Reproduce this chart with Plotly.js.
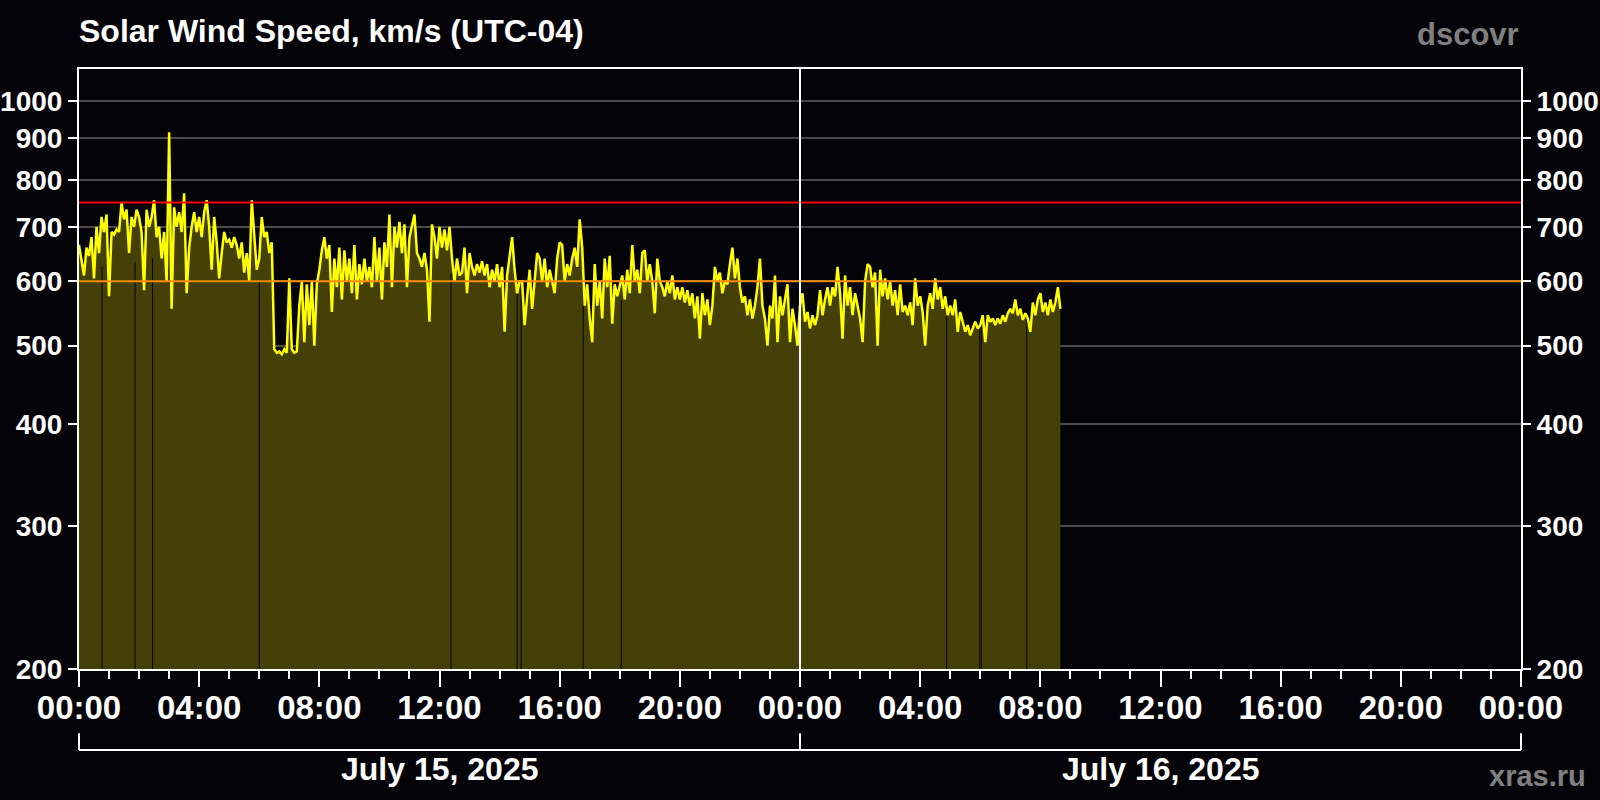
<!DOCTYPE html>
<html><head><meta charset="utf-8">
<script src="https://cdn.plot.ly/plotly-3.0.1.min.js"></script>
<style>html,body{margin:0;padding:0;background:#040307;}#chart{width:1600px;height:800px;}</style>
</head><body><div id="chart"></div>
<script>
// ---- data (5-minute samples) ----
const startYear = 2025, startMonth = 6, startDay = 15; // July 15, 2025 (month index 6)
const stepMinutes = 5;

const speedJul15 = [
  665,635,610,660,645,680,605,700,650,720,690,725,
  575,690,685,695,690,750,715,735,650,720,700,735,
  720,690,585,735,700,720,755,680,700,640,690,600,
  915,555,740,700,730,690,770,580,660,700,730,690,
  720,680,730,755,700,620,720,670,605,650,690,670,
  675,660,680,665,640,670,615,650,600,755,680,620,
  640,720,680,690,650,670,495,490,492,488,495,490,
  605,495,490,492,560,600,505,595,530,600,500,595,
  620,655,680,640,665,550,640,590,660,570,655,600,
  640,580,665,570,630,595,640,600,625,590,680,600,
  660,570,670,625,725,590,700,660,710,650,705,590,
  680,705,725,650,640,625,650,620,535,705,680,640,
  700,660,695,655,700,640,600,640,610,615,660,580,
  650,625,610,630,615,635,610,630,590,620,600,630,
  590,625,520,610,640,680,620,580,600,600,530,580,
  620,555,600,650,640,600,640,590,620,600,580,640,
  670,665,600,630,610,640,660,625,715,660,560,595,
  540,505,630,560,600,540,640,590,645,532,595,575,
  590,610,570,620,580,665,600,620,580,650,655,600,
  630,600,548,640,600,590,575,600,580,610,570,590,
  570,590,565,585,560,580,540,575,510,580,545,570,
  530,560,625,600,615,580,600,595,630,660,605,640,
  590,565,575,545,570,540,560,590,640,560,540,500,
  560,540,610,505,575,545,570,595,505,555,530,500
];
const speedJul16 = [
  560,580,535,550,525,545,530,545,585,545,570,590,
  560,590,575,625,580,510,610,560,590,545,580,560,
  540,505,600,630,625,590,615,500,620,575,605,570,
  600,560,585,545,595,550,560,545,565,530,605,560,
  575,550,500,560,580,555,605,570,590,555,575,545,
  560,545,570,520,550,535,520,530,515,525,535,525,
  530,545,505,545,535,540,530,540,532,545,535,548,
  555,548,570,545,555,538,548,540,520,565,545,570,
  580,550,565,545,570,550,565,590,555
];

// data gaps (thin dark lines in the fill)
const gapTimes = ['2025-07-15 00:46','2025-07-15 01:52','2025-07-15 02:27','2025-07-15 06:00',
  '2025-07-15 12:23','2025-07-15 14:35','2025-07-15 14:43','2025-07-15 16:47','2025-07-15 18:03',
  '2025-07-16 04:53','2025-07-16 05:59','2025-07-16 06:02','2025-07-16 07:33'];
const gapTops = [625,634,640,602,614,580,591,602,569,553,540,538,545];

const thresholdValues = [600, 750];
const thresholdColors = ['#ff8c00', '#ff0000'];
const yTickVals = [200,300,400,500,600,700,800,900,1000];
const yMin = 200, yMax = 1095;
const dayBoundaries = ['2025-07-15 00:00','2025-07-16 00:00','2025-07-17 00:00'];
const dayCenters = ['2025-07-15 12:00','2025-07-16 12:00'];
const dayLabels = ['July 15, 2025','July 16, 2025'];
const titleText = 'Solar Wind Speed, km/s (UTC-04)';
const sourceText = 'dscovr';
const creditText = 'xras.ru';

// ---- build ----
const speed = speedJul15.concat(speedJul16);
const t0 = Date.UTC(startYear, startMonth, startDay, 0, 0, 0);
const times = speed.map((_, i) => new Date(t0 + i*stepMinutes*60000).toISOString().slice(0,16).replace('T',' '));

const gx = [], gy = [];
gapTimes.forEach((t, i) => { gx.push(t, t, null); gy.push(yMin, gapTops[i], null); });

const FONT = 'Liberation Sans, Arial, Helvetica, sans-serif';
const BG = '#040307';

const traces = [
  {x: times, y: speed, type: 'scatter', mode: 'lines', line: {width: 0, color: 'rgba(0,0,0,0)'},
   fill: 'tozeroy', fillcolor: '#454008', hoverinfo: 'skip'},
  {x: gx, y: gy, type: 'scatter', mode: 'lines', line: {width: 1, color: BG}, hoverinfo: 'skip'},
  {x: times, y: speed, type: 'scatter', mode: 'lines', line: {width: 2.5, color: '#ffff00'}},
  {x: [dayBoundaries[0]], y: [null], yaxis: 'y2', type: 'scatter', mode: 'lines', hoverinfo: 'skip'}
];

const shapes = [];
thresholdValues.forEach((v, i) => shapes.push({type: 'line', xref: 'paper', x0: 0, x1: 1, yref: 'y', y0: v, y1: v,
  line: {color: thresholdColors[i], width: 2}, layer: 'above'}));
shapes.push({type: 'line', xref: 'x', x0: dayBoundaries[1], x1: dayBoundaries[1], yref: 'paper', y0: 0, y1: 1,
  line: {color: 'white', width: 2}, layer: 'above'});
// date bracket below the axis
const bY = -0.135, bTop = -0.107;
shapes.push({type: 'line', xref: 'paper', x0: 0, x1: 1, yref: 'paper', y0: bY, y1: bY, line: {color: 'white', width: 2}});
shapes.push({type: 'line', xref: 'paper', x0: 0, x1: 0, yref: 'paper', y0: bY, y1: bTop, line: {color: 'white', width: 2}});
shapes.push({type: 'line', xref: 'paper', x0: 1, x1: 1, yref: 'paper', y0: bY, y1: bTop, line: {color: 'white', width: 2}});
shapes.push({type: 'line', xref: 'x', x0: dayBoundaries[1], x1: dayBoundaries[1], yref: 'paper', y0: bY, y1: bTop, line: {color: 'white', width: 2}});

const annotations = dayCenters.map((c, i) => ({xref: 'x', x: c, yref: 'paper', y: -0.167, yanchor: 'middle',
  text: dayLabels[i], showarrow: false, font: {family: FONT, size: 32, color: 'white', weight: 'bold'}}));
annotations.push({xref: 'paper', x: 1, xanchor: 'right', yref: 'paper', y: 1.057, yanchor: 'middle',
  text: sourceText, showarrow: false, font: {family: FONT, size: 31, color: '#808080', weight: 'bold'}});
annotations.push({xref: 'paper', x: 1.0465, xanchor: 'right', yref: 'paper', y: -0.178, yanchor: 'middle',
  text: creditText, showarrow: false, font: {family: FONT, size: 29, color: '#808080', weight: 'bold'}});

const yTickFont = {family: FONT, size: 28, color: 'white', weight: 'bold'};
const yCommon = {type: 'log', range: [Math.log10(yMin), Math.log10(yMax)], tickmode: 'array',
  tickvals: yTickVals, ticktext: yTickVals.map(String), ticks: 'outside', ticklen: 9, tickwidth: 2,
  tickcolor: 'white', tickfont: yTickFont, zeroline: false, fixedrange: true};

const layout = {
  width: 1600, height: 800,
  margin: {l: 79, r: 79, t: 69, b: 131},
  paper_bgcolor: BG, plot_bgcolor: BG,
  showlegend: false,
  title: {text: titleText, x: 0, xref: 'paper', xanchor: 'left', y: 0.962, yref: 'container', yanchor: 'middle',
    font: {family: FONT, size: 32, color: 'white', weight: 'bold'}},
  xaxis: {type: 'date', range: [dayBoundaries[0], dayBoundaries[2]], tickmode: 'linear', tick0: dayBoundaries[0],
    dtick: 4*3600000, tickformat: '%H:%M', ticks: 'outside', ticklen: 16, tickwidth: 2, tickcolor: 'white',
    ticklabelstandoff: -8,
    showline: true, mirror: true, linecolor: 'white', linewidth: 2, showgrid: false, zeroline: false,
    tickfont: {family: FONT, size: 33, color: 'white', weight: 'bold'}, fixedrange: true,
    minor: {dtick: 3600000, tick0: dayBoundaries[0], ticks: 'outside', ticklen: 8, tickwidth: 2, tickcolor: 'white', showgrid: false}},
  yaxis: Object.assign({}, yCommon, {showline: true, mirror: true, linecolor: 'white', linewidth: 2,
    showgrid: true, gridcolor: '#4a4a4a', gridwidth: 2}),
  yaxis2: Object.assign({}, yCommon, {overlaying: 'y', side: 'right', showgrid: false, showline: false}),
  shapes: shapes,
  annotations: annotations
};

Plotly.newPlot('chart', traces, layout, {staticPlot: true});
</script></body></html>
